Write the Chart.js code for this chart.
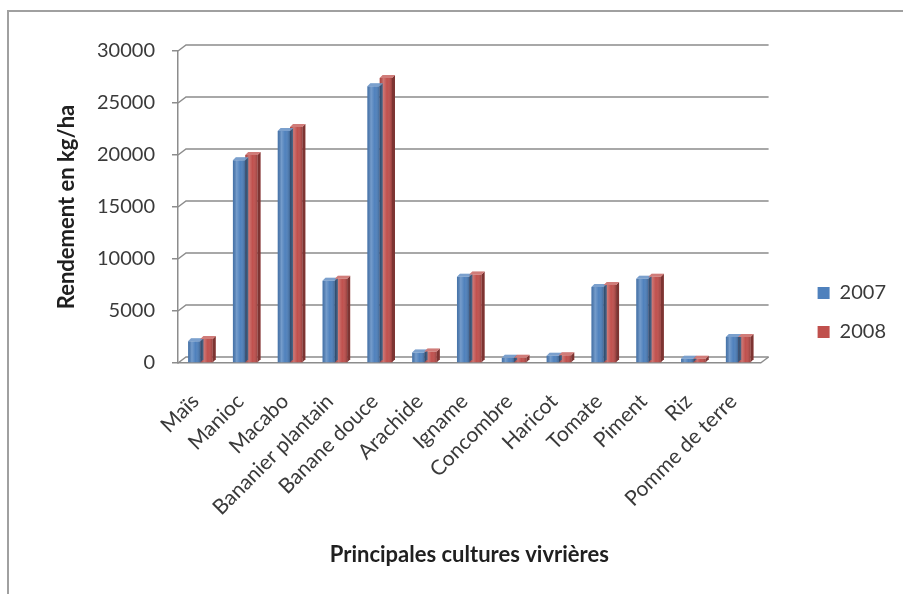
<!DOCTYPE html>
<html>
<head>
<meta charset="utf-8">
<script src="https://cdn.jsdelivr.net/npm/chart.js@4.4.0/dist/chart.umd.min.js"></script>
<style>
  html, body { margin: 0; padding: 0; background: #fff; }
  #wrap { position: relative; width: 903px; height: 594px; overflow: hidden; }
  #frame { position: absolute; left: 7px; top: 10px; width: 920px; height: 620px;
           border-left: 2px solid #a0a0a0; border-top: 2px solid #a0a0a0; }
  canvas { position: absolute; left: 0; top: 0; }
</style>
</head>
<body>
<div id="wrap">
  <div id="frame"></div>
  <canvas id="chart" width="903" height="594"></canvas>
</div>
<script>
// --- données ---
const cultures = ['Maïs', 'Manioc', 'Macabo', 'Bananier plantain', 'Banane douce', 'Arachide',
                  'Igname', 'Concombre', 'Haricot', 'Tomate', 'Piment', 'Riz', 'Pomme de terre'];
const rendement2007 = [2100, 19500, 22300, 7900, 26600, 1000, 8300, 500, 700, 7300, 8100, 400, 2500];
const rendement2008 = [2300, 20000, 22700, 8100, 27400, 1100, 8500, 500, 750, 7500, 8300, 400, 2500];
const yMax = 30000;
const yStep = 5000;

const BLUE = '#4F81BD';
const RED = '#C0504D';
const GRID = '#8c8c8c';
const TXT = '#3a3a3a';
const FONT = 'Lato';

// profondeur du "mur" du fond (effet 3D)
const WALL_DX = 8, WALL_DY = 6;

// mur du fond + sol
const wallPlugin = {
    id: 'wall',
    beforeDatasetsDraw(chart) {
        const { ctx, chartArea: a } = chart;
        const y = chart.scales.y;
        ctx.save();
        ctx.strokeStyle = GRID;
        ctx.lineWidth = 1.5;
        y.ticks.forEach(t => {
            const py = y.getPixelForValue(t.value);
            ctx.beginPath();
            ctx.moveTo(a.left, py);
            ctx.lineTo(a.left + WALL_DX, py - WALL_DY);
            ctx.lineTo(a.right + WALL_DX, py - WALL_DY);
            ctx.stroke();
        });
        // bord droit du sol
        ctx.beginPath();
        ctx.moveTo(a.right, a.bottom);
        ctx.lineTo(a.right + WALL_DX, a.bottom - WALL_DY);
        ctx.stroke();
        ctx.restore();
    }
};

// relief des colonnes : reflet, face latérale, dessus
const columnPlugin = {
    id: 'columns3d',
    afterDatasetsDraw(chart) {
        const { ctx } = chart;
        const d = 3;
        chart.data.datasets.forEach((ds, i) => {
            const meta = chart.getDatasetMeta(i);
            meta.data.forEach(bar => {
                const { x, y, base, width } = bar.getProps(['x', 'y', 'base', 'width'], true);
                const l = x - width / 2, r = x + width / 2;
                ctx.save();
                const g = ctx.createLinearGradient(l, 0, r, 0);
                g.addColorStop(0, 'rgba(0,0,0,0.10)');
                g.addColorStop(0.3, 'rgba(255,255,255,0.22)');
                g.addColorStop(0.6, 'rgba(255,255,255,0.0)');
                g.addColorStop(1, 'rgba(0,0,0,0.22)');
                ctx.fillStyle = g;
                ctx.fillRect(l, y, width, base - y);
                // face latérale
                ctx.fillStyle = ds.backgroundColor;
                ctx.beginPath();
                ctx.moveTo(r, y); ctx.lineTo(r + d, y - d); ctx.lineTo(r + d, base - d); ctx.lineTo(r, base);
                ctx.closePath(); ctx.fill();
                ctx.fillStyle = 'rgba(0,0,0,0.35)';
                ctx.fill();
                // dessus
                ctx.fillStyle = ds.backgroundColor;
                ctx.beginPath();
                ctx.moveTo(l, y); ctx.lineTo(l + d, y - d); ctx.lineTo(r + d, y - d); ctx.lineTo(r, y);
                ctx.closePath(); ctx.fill();
                ctx.fillStyle = 'rgba(255,255,255,0.25)';
                ctx.fill();
                ctx.restore();
            });
        });
    }
};

new Chart(document.getElementById('chart'), {
    type: 'bar',
    data: {
        labels: cultures,
        datasets: [
            { label: '2007', data: rendement2007, backgroundColor: BLUE, borderWidth: 0 },
            { label: '2008', data: rendement2008, backgroundColor: RED, borderWidth: 0 }
        ]
    },
    options: {
        responsive: false,
        animation: false,
        events: [],
        categoryPercentage: 0.55,
        barPercentage: 1.0,
        layout: { padding: { left: 50, right: 7, top: 51, bottom: 20 } },
        plugins: {
            legend: {
                position: 'right',
                align: 'center',
                labels: {
                    boxWidth: 12, boxHeight: 12, padding: 19,
                    color: TXT, font: { family: FONT, size: 20 }
                }
            },
            tooltip: { enabled: false }
        },
        scales: {
            x: {
                offset: true,
                grid: { display: false },
                border: { display: true, color: GRID, width: 1.5 },
                ticks: {
                    minRotation: 45, maxRotation: 45, autoSkip: false, padding: 18, labelOffset: -5,
                    color: TXT, font: { family: FONT, size: 21 }
                },
                title: {
                    display: true, text: 'Principales cultures vivrières',
                    color: '#202020', font: { family: FONT, size: 22, weight: 'bold' },
                    padding: { top: 4, bottom: 6 }
                },
                afterFit(scale) { scale.height = 211; }
            },
            y: {
                min: 0, max: yMax,
                grid: { drawOnChartArea: false, drawTicks: true, tickLength: 6, color: GRID, lineWidth: 1.5 },
                border: { display: true, color: GRID, width: 1.5 },
                ticks: {
                    stepSize: yStep, padding: 17,
                    color: TXT, font: { family: FONT, size: 20 },
                    callback: v => String(v)
                },
                title: {
                    display: true, text: 'Rendement en kg/ha',
                    color: '#202020', font: { family: FONT, size: 22, weight: 'bold' },
                    padding: { top: 4, bottom: 4 }
                },
                afterFit(scale) { scale.width = 128; }
            },
            // espace vide entre le graphique et la légende
            gap: {
                position: 'right', display: true,
                grid: { display: false }, border: { display: false },
                ticks: { display: false },
                afterFit(scale) { scale.width = 38; }
            }
        }
    },
    plugins: [wallPlugin, columnPlugin]
});
</script>
</body>
</html>
